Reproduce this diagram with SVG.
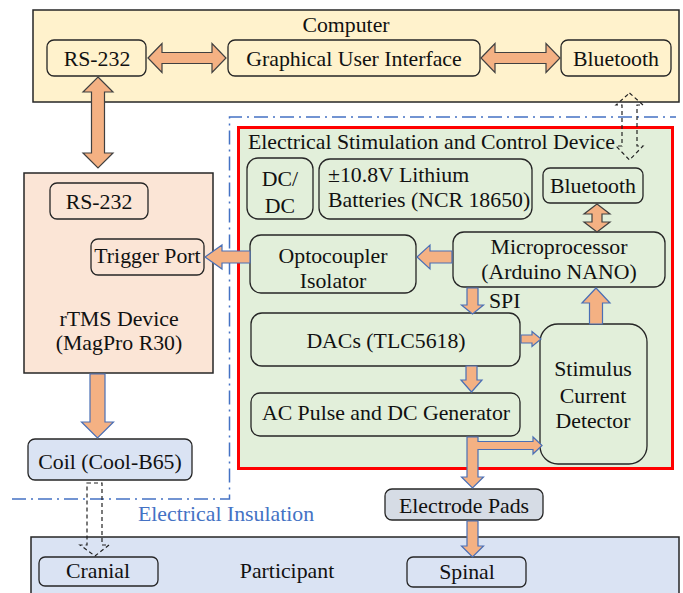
<svg xmlns="http://www.w3.org/2000/svg" width="683" height="593" viewBox="0 0 683 593">
<style>
text{font-family:"Liberation Serif","Times New Roman",serif;font-size:21.8px;fill:#111}
.c{text-anchor:middle}
.box{stroke:#262626;stroke-width:1.3}
.big{stroke:#262626;stroke-width:1.5}
.y{fill:#fff2cc}.p{fill:#fbe5d6}.g{fill:#e2efda}.b{fill:#dae3f3}.e{fill:#d6dce5}
.a2{fill:#f4b183;stroke:#404040;stroke-width:1.2}
.a1{fill:#f4b183;stroke:#4a6fb5;stroke-width:1.2}
.dash{fill:none;stroke:#222;stroke-width:1.2;stroke-dasharray:4 3}
</style>
<rect width="683" height="593" fill="#fff"/>
<g id="computer">
<rect class="big y" x="33" y="10" width="646" height="92"/>
<text class="c" x="346" y="32">Computer</text>
</g>
<g id="pc-rs232"><rect class="box y" x="47" y="40" width="99" height="36" rx="7"/><text class="c" x="97" y="66">RS-232</text></g>
<g id="gui"><rect class="box y" x="228" y="40" width="252" height="36" rx="7"/><text class="c" x="354" y="66">Graphical User Interface</text></g>
<g id="pc-bt"><rect class="box y" x="561" y="40" width="110" height="36" rx="7"/><text class="c" x="616" y="66">Bluetooth</text></g>
<g id="rtms">
<rect class="big p" x="24" y="173" width="189" height="200"/>
<text class="c" x="119" y="326">rTMS Device</text>
<text class="c" x="119" y="350">(MagPro R30)</text>
</g>
<g id="rtms-rs232"><rect class="box p" x="50" y="183" width="98" height="36" rx="7"/><text class="c" x="99" y="209">RS-232</text></g>
<g id="trigger"><rect class="box p" x="91" y="239" width="113" height="36" rx="7"/><text class="c" x="147.5" y="263">Trigger Port</text></g>
<g id="coil"><rect class="box b" x="28" y="439" width="164" height="41" rx="7"/><text class="c" x="110" y="469">Coil (Cool-B65)</text></g>
<g id="esc">
<rect x="238.5" y="127.5" width="434" height="341" fill="#e2efda" stroke="#ff0000" stroke-width="3"/>
<text x="248" y="149">Electrical Stimulation and Control Device</text>
</g>
<g id="dcdc"><rect class="box g" x="247" y="158" width="66" height="61" rx="11"/><text class="c" x="280" y="186">DC/</text><text class="c" x="280" y="213">DC</text></g>
<g id="batt"><rect class="box g" x="319" y="159" width="213" height="60" rx="11"/><text x="328" y="182">±10.8V Lithium</text><text x="328" y="207">Batteries (NCR 18650)</text></g>
<g id="esc-bt"><rect class="box g" x="543" y="168" width="100" height="35" rx="7"/><text class="c" x="593" y="193">Bluetooth</text></g>
<g id="micro"><rect class="box g" x="453" y="232" width="212" height="55" rx="11"/><text class="c" x="559" y="254">Microprocessor</text><text class="c" x="559" y="279">(Arduino NANO)</text></g>
<g id="opto"><rect class="box g" x="250" y="235" width="166" height="58" rx="11"/><text class="c" x="333" y="263">Optocoupler</text><text class="c" x="333" y="288">Isolator</text></g>
<g id="dacs"><rect class="box g" x="251" y="313" width="269" height="53" rx="11"/><text class="c" x="386" y="348">DACs (TLC5618)</text></g>
<g id="acpulse"><rect class="box g" x="251" y="393" width="269" height="43" rx="9"/><text class="c" x="386" y="420">AC Pulse and DC Generator</text></g>
<g id="detector"><rect class="box g" x="540" y="324" width="107" height="140" rx="18"/><text class="c" x="593" y="376">Stimulus</text><text class="c" x="593" y="403">Current</text><text class="c" x="593" y="428">Detector</text></g>
<g id="electrode"><rect class="box e" x="385" y="489" width="158" height="31" rx="7"/><text class="c" x="464" y="513">Electrode Pads</text></g>
<g id="participant">
<rect class="big b" x="31" y="537" width="648" height="60"/>
<text class="c" x="287" y="578">Participant</text>
</g>
<g id="cranial"><rect class="box b" x="39" y="557" width="119" height="29" rx="6"/><text class="c" x="98" y="578">Cranial</text></g>
<g id="spinal"><rect class="box b" x="407" y="557" width="119" height="30" rx="6"/><text class="c" x="467" y="579">Spinal</text></g>
<g id="insulation">
<path d="M12,499 H229.5 V117 H676" fill="none" stroke="#4472c4" stroke-width="1.5" stroke-dasharray="14 5 2 5"/>
<text x="138" y="521" style="fill:#4472c4">Electrical Insulation</text>
</g>
<g id="connectors">
<polygon class="a2" points="148,58 162,43.5 162,52.5 212,52.5 212,43.5 226,58 212,72.5 212,63.5 162,63.5 162,72.5"/>
<polygon class="a2" points="481,58 495,43.5 495,52.5 546,52.5 546,43.5 560,58 546,72.5 546,63.5 495,63.5 495,72.5"/>
<polygon class="a2" points="98,77 113,92 104.5,92 104.5,153 113,153 98,168 83,153 91.5,153 91.5,92 83,92"/>
<polygon class="a2" points="597,204 610,214 602,214 602,222 610,222 597,232 584,222 592,222 592,214 584,214"/>
<polygon class="a1" points="417,257 430,245 430,251 452,251 452,263 430,263 430,269"/>
<polygon class="a1" points="205,257 222,245 222,251 250,251 250,263 222,263 222,269"/>
<polygon class="a1" points="467,288 478,288 478,305 483.5,305 472.5,314 461.5,305 467,305"/>
<text x="489" y="308">SPI</text>
<polygon class="a1" points="521,335 532,335 532,331.5 541,339 532,346.5 532,343 521,343"/>
<polygon class="a1" points="466,366 477,366 477,380 482,380 471.5,392 461,380 466,380"/>
<polygon class="a1" points="596,288 610,303 602.5,303 602.5,324 589.5,324 589.5,303 582,303"/>
<polygon class="a1" points="467,437 478,437 478,441.5 533,441.5 533,437 542,445.5 533,454 533,449.5 478,449.5 478,477 483.5,477 472.5,488 461.5,477 467,477"/>
<polygon class="a1" points="467,521 478,521 478,546 483.5,546 472.5,557 461.5,546 467,546"/>
<polygon class="a1" points="90,374 105,374 105,422 113.5,422 97.5,438 81.5,422 90,422"/>
<polygon class="dash" points="87,483 102,483 102,545 109,545 95,556 80,545 87,545"/>
<polygon class="dash" points="629.5,93 643,105 637,105 637,146 643,146 629.5,160 616,146 622,146 622,105 616,105"/>
</g>
</svg>
